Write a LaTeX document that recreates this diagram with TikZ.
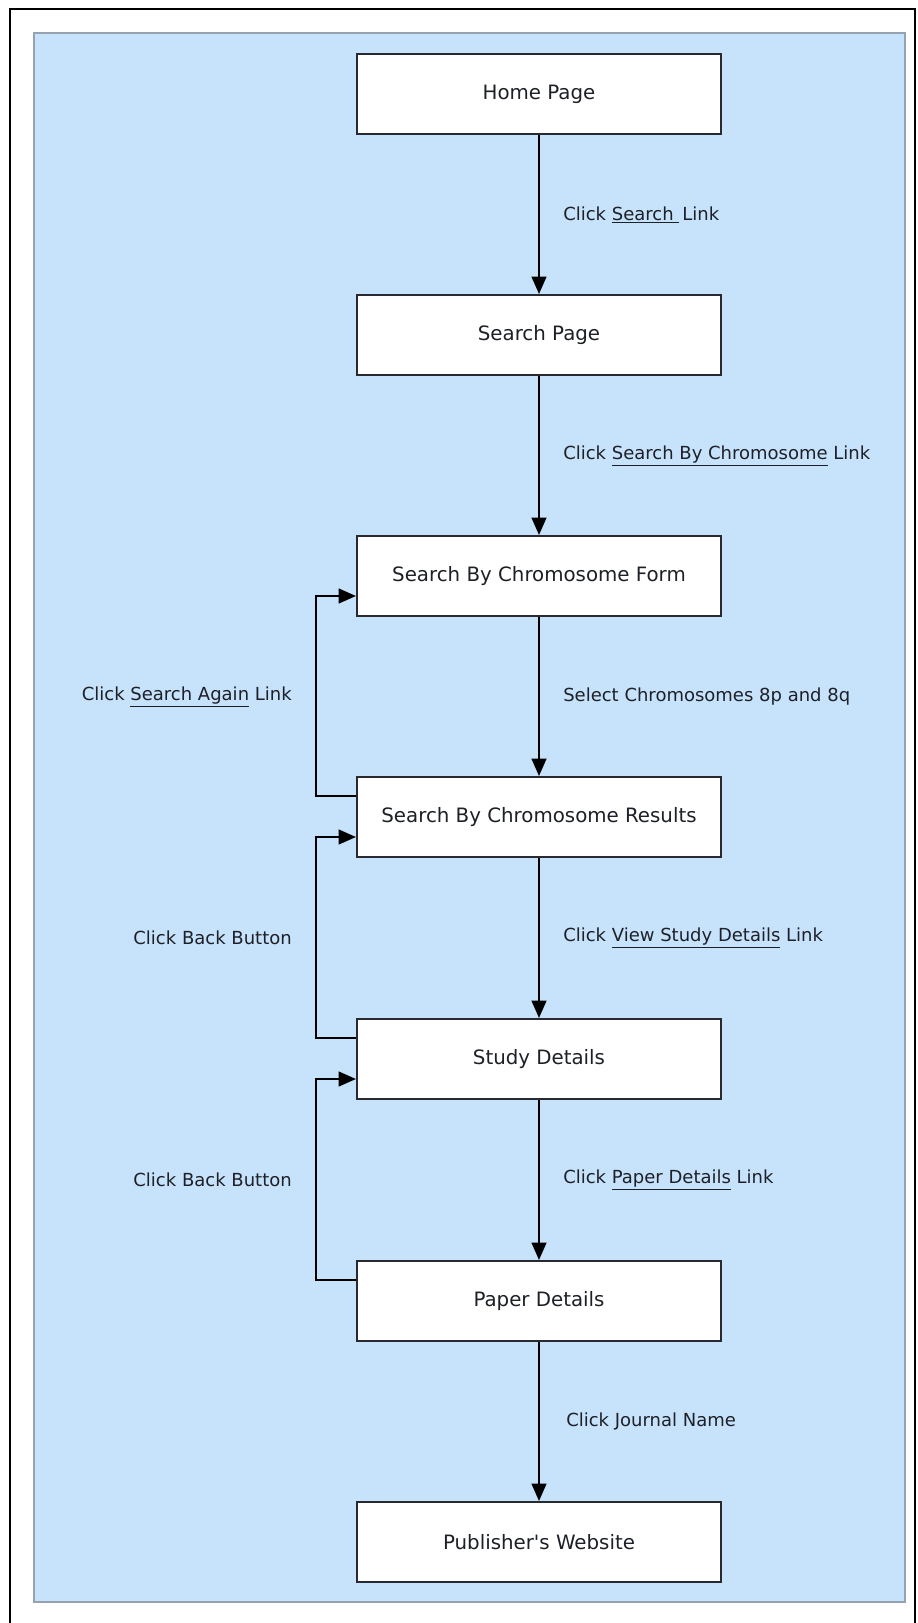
\documentclass[tikz,border=0pt]{standalone}
\usepackage{fontspec}
\setmainfont{DejaVu Sans}
\newfontfamily\nomapfont{DejaVu Sans}
\usetikzlibrary{arrows.meta}
\definecolor{bgblue}{RGB}{199,227,251}
\definecolor{bgedge}{RGB}{150,162,175}
\definecolor{ink}{RGB}{30,32,40}
\definecolor{boxedge}{RGB}{40,42,48}
\tikzset{
  pagebox/.style={draw=boxedge, line width=1.5pt, fill=white, minimum width=273pt, minimum height=60pt, inner sep=0pt, text=ink, font=\fontsize{14.85pt}{18pt}\selectfont},
  lbl/.style={text=ink, inner sep=0pt, font=\fontsize{13.5pt}{16pt}\selectfont},
  flow/.style={line width=1.6pt, draw=black, -{Triangle[length=13pt,width=11pt]}},
}
\begin{document}
\begin{tikzpicture}[x=0.75pt,y=-0.75pt]
\useasboundingbox (0,0) rectangle (917,1623);
% outer frame
\draw[line width=1.6pt, black] (10,1640) -- (10,9) -- (915,9) -- (915,1640);
% blue background
\draw[bgedge, fill=bgblue, line width=0.8pt] (34,33) rectangle (905,1602);
% pages
\node[pagebox] (home) at (539,94) {Home Page};
\node[pagebox] (search) at (539,335) {Search Page};
\node[pagebox] (form) at (539,576) {Search By Chromosome Form};
\node[pagebox] (res) at (539,817) {Search By Chromosome Results};
\node[pagebox] (study) at (539,1059) {Study Details};
\node[pagebox] (paper) at (539,1301) {Paper Details};
\node[pagebox] (pub) at (539,1542) {{\nomapfont Publisher's Website}};
% forward connectors
\draw[flow] (home) -- (search);
\draw[flow] (search) -- (form);
\draw[flow] (form) -- (res);
\draw[flow] (res) -- (study);
\draw[flow] (study) -- (paper);
\draw[flow] (paper) -- (pub);
% right labels
\node[lbl, anchor=west] (l1) at (563,215) {Click \underline{Search\ }\,Link};
\node[lbl, anchor=west] (l2) at (563,456) {Click \underline{Search By Chromosome} Link};
\node[lbl, anchor=west] (l3) at (563,697) {Select Chromosomes 8p and 8q};
\node[lbl, anchor=west] (l4) at (563,938) {Click \underline{View Study Details} Link};
\node[lbl, anchor=west] (l5) at (563,1180) {Click \underline{Paper Details} Link};
\node[lbl, anchor=west] (l6) at (566,1421) {Click Journal Name};
% back loops
\draw[flow] ([yshift=-15pt]res.north west) -- ++(-40,0) |- ([yshift=-45.75pt]form.north west);
\draw[flow] ([yshift=-15pt]study.north west) -- ++(-40,0) |- ([yshift=-45.75pt]res.north west);
\draw[flow] ([yshift=-15pt]paper.north west) -- ++(-40,0) |- ([yshift=-45.75pt]study.north west);
% left labels
\node[lbl, anchor=east] (b1) at (292,697) {Click \underline{Search Again} Link};
\node[lbl, anchor=east] (b2) at (292,938) {Click Back Button};
\node[lbl, anchor=east] (b3) at (292,1180) {Click Back Button};
\end{tikzpicture}
\end{document}
